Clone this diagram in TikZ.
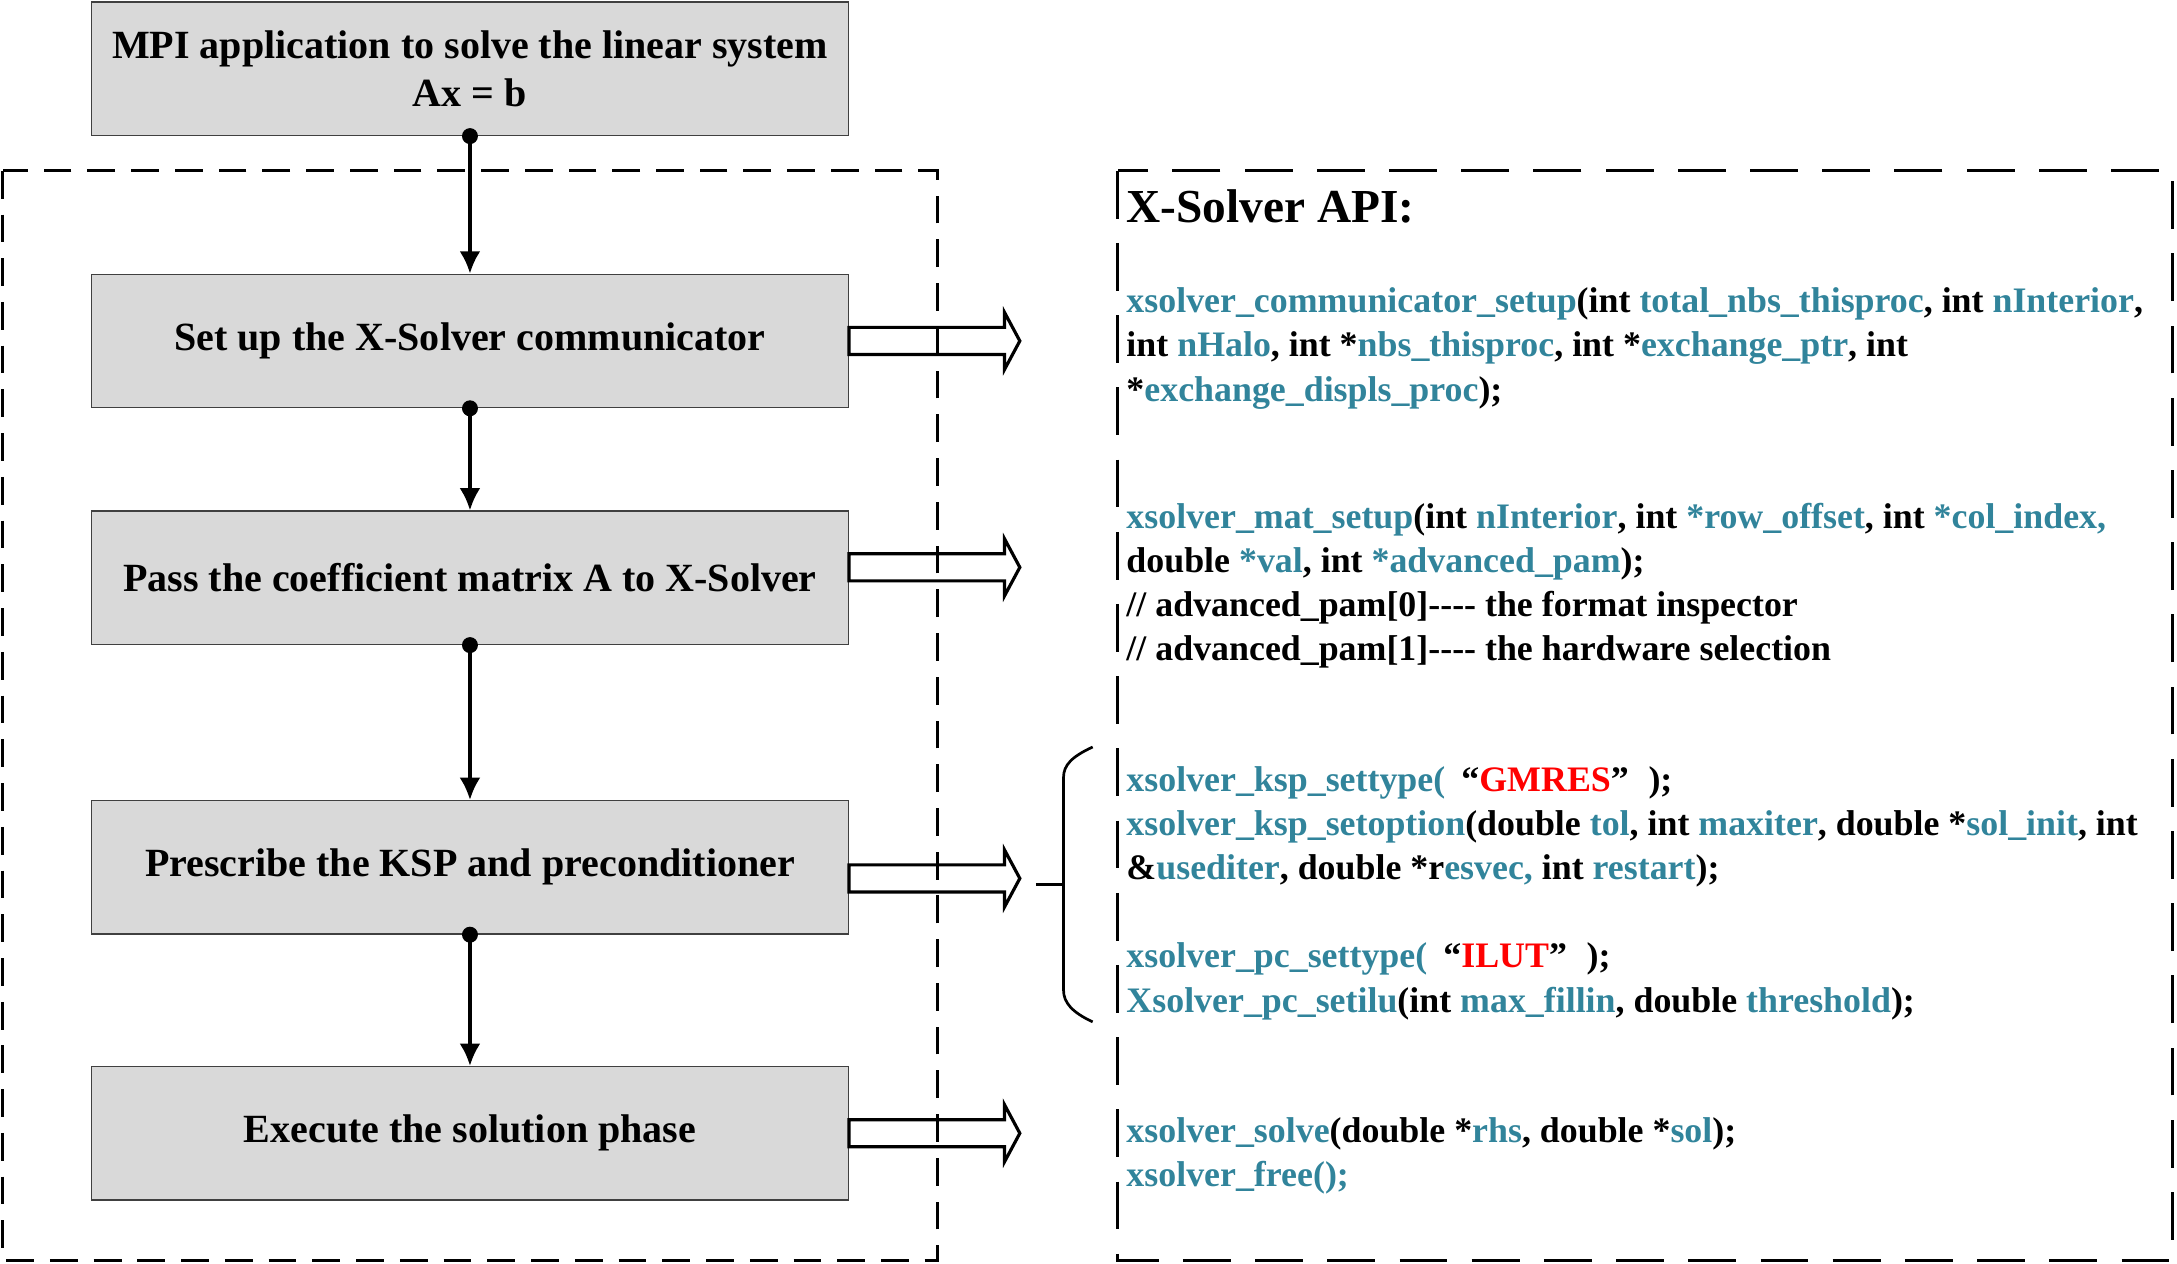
\documentclass[tikz,border=0pt]{standalone}
\usepackage{fontspec}
\setmainfont{Liberation Serif}
\usepackage{xcolor}
\usetikzlibrary{arrows.meta}
\usetikzlibrary{positioning}
\definecolor{boxgray}{RGB}{217,217,217}
\definecolor{apiteal}{RGB}{49,132,155}
\tikzset{%
  procbox/.style={rectangle,fill=boxgray,draw=black!75,line width=0.6pt,minimum width=109mm,minimum height=19.2mm,inner sep=0pt,align=center,font=\fontsize{16.4pt}{19.9pt}\selectfont\bfseries}
}
\tikzset{%
  flow/.style={-{Latex[length=3.2mm,width=3mm]},line width=1.4pt},
  fatline/.style={draw=black,fill=white,line width=1.3pt,line join=miter},
  codeline/.style={anchor=base west,inner sep=0pt,font=\fontsize{14.7pt}{17.9pt}\selectfont\bfseries},
  groupbox/.style={dash pattern=on 4mm off 2.3mm,line width=1.1pt},
  apibox/.style={dash pattern=on 6.9mm off 3.5mm,line width=1.3pt}
}
\newcommand{\vc}[1]{\textcolor{apiteal}{#1}}
\newcommand{\qr}[1]{\textcolor{red}{#1}}
\newcommand{\fatarrow}[1]{\draw[fatline] #1 ++(0,-9.75) -- ++(112,0) -- ++(0,-10.75) -- ++(11,20.5) -- ++(-11,20.5) -- ++(0,-10.75) -- ++(-112,0) -- cycle;}
\begin{document}
\begin{tikzpicture}[x=0.2mm,y=-0.2mm]
        \useasboundingbox (0,0) rectangle (1568,910);
        % flow chart
        \node[procbox] (app) at (338.5,49.5) {MPI application to solve the linear system\\Ax = b};
        \node[procbox,below=19.8mm of app] (setup) {Set up the X-Solver communicator};
        \node[procbox,below=14.7mm of setup] (pass) {Pass the coefficient matrix A to X-Solver};
        \node[procbox,below=22.3mm of pass] (ksp) {Prescribe the KSP and preconditioner};
        \node[procbox,below=18.9mm of ksp] (solve) {Execute the solution phase};

        \draw[flow] (app.south) -- (setup.north);
        \draw[flow] (setup.south) -- (pass.north);
        \draw[flow] (pass.south) -- (ksp.north);
        \draw[flow] (ksp.south) -- (solve.north);
        \fill (app.south) circle (1.15mm);
        \fill (setup.south) circle (1.15mm);
        \fill (pass.south) circle (1.15mm);
        \fill (ksp.south) circle (1.15mm);

        \fatarrow{(setup.east)}
        \fatarrow{([yshift=1.5mm]pass.east)}
        \fatarrow{([yshift=-1.6mm]ksp.east)}
        \fatarrow{(solve.east)}

        \draw[groupbox] (2,123) rectangle (675,908);
        \draw[apibox] (805,123) rectangle (1565,908);

        % api text
        \node[codeline,font=\fontsize{19.4pt}{22pt}\selectfont\bfseries] (apihead) at (811,160) {X-Solver API:};
        \node[codeline] (comm1) at (811,225) {\vc{xsolver\_communicator\_setup}(int \vc{total\_nbs\_thisproc}, int \vc{nInterior},};
        \node[codeline] (comm2) at (811,257) {int \vc{nHalo}, int *\vc{nbs\_thisproc}, int *\vc{exchange\_ptr}, int};
        \node[codeline] (comm3) at (811,289) {*\vc{exchange\_displs\_proc});};
        \node[codeline] (mat1) at (811,381) {\vc{xsolver\_mat\_setup}(int \vc{nInterior}, int \vc{*row\_offset}, int \vc{*col\_index,}};
        \node[codeline] (mat2) at (811,412.5) {double \vc{*val}, int \vc{*advanced\_pam});};
        \node[codeline] (mat3) at (811,444) {// advanced\_pam[0]-{}-{}-{}- the format inspector};
        \node[codeline] (mat4) at (811,475.5) {// advanced\_pam[1]-{}-{}-{}- the hardware selection};
        \node[codeline] (ksp1) at (811,570) {\vc{xsolver\_ksp\_settype(}\hspace{0.2em} “\qr{GMRES}”\hspace{0.3em} );};
        \node[codeline] (ksp2) at (811,602) {\vc{xsolver\_ksp\_setoption}(double \vc{tol}, int \vc{maxiter}, double *\vc{sol\_init}, int};
        \node[codeline] (ksp3) at (811,633.5) {\&\vc{usediter}, double *r\vc{esvec,} int \vc{restart});};
        \node[codeline] (pc1) at (811,697) {\vc{xsolver\_pc\_settype(}\hspace{0.2em} “\qr{ILUT}”\hspace{0.3em} );};
        \node[codeline] (pc2) at (811,729) {\vc{Xsolver\_pc\_setilu}(int \vc{max\_fillin}, double \vc{threshold});};
        \node[codeline] (sol1) at (811,823) {\vc{xsolver\_solve}(double *\vc{rhs}, double *\vc{sol});};
        \node[codeline] (sol2) at (811,854.5) {\vc{xsolver\_free();}};

        % brace
        \coordinate (bracetip) at (746,637);
        \draw[line width=1.1pt] (787,538) .. controls (772,545) and (766,551) .. (766,560) -- (766,713) .. controls (766,722) and (772,729) .. (787,736);
        \draw[line width=1.1pt] (bracetip) -- (766,637);
      \end{tikzpicture}
\end{document}
